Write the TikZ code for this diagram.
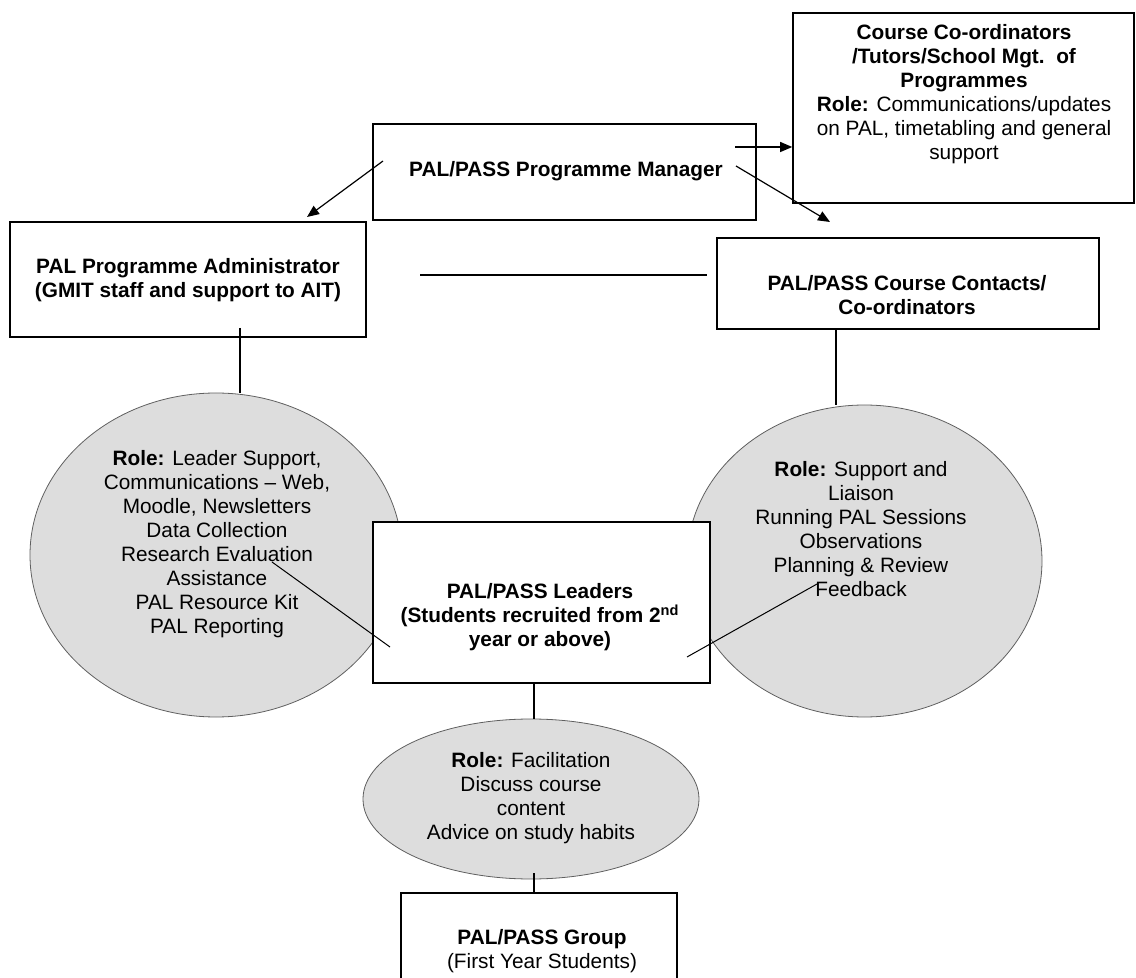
\documentclass[tikz,border=0pt]{standalone}
\usepackage{fontspec}
\setmainfont{Liberation Sans}
\usetikzlibrary{shapes.geometric,arrows.meta}
\definecolor{rolefill}{RGB}{221,221,221}
\definecolor{rim}{RGB}{95,95,95}
\tikzset{
  box/.style={draw, line width=0.8pt, fill=white, inner sep=0pt},
  role/.style={ellipse, draw=rim, line width=0.4pt, fill=rolefill, inner sep=0pt},
  txt/.style={align=center, inner sep=0pt, font=\fontsize{10.4}{12}\selectfont},
  arr/.style={-{Triangle[length=6pt,width=5pt]}, line width=0.6pt},
  link/.style={line width=0.6pt}
}
\begin{document}
\begin{tikzpicture}[x=0.5pt,y=-0.5pt]
  \useasboundingbox (0,0) rectangle (1136,978);
  \clip (0,0) rectangle (1136,978);

  % Top boxes
  \node[box, minimum width=170.5pt, minimum height=95pt] (coord) at (963.5,108) {};
  \node[txt] (coordtxt) at (964,94) {\textbf{Course Co-ordinators}\\
    \textbf{/Tutors/School Mgt.\ \ of}\\ \textbf{Programmes}\\
    \textbf{Role:} Communications/updates\\ on PAL, timetabling and general\\ support};
  \node[box, minimum width=191.5pt, minimum height=48pt] (mgr) at (564.5,172) {};
  \node[txt] (mgrtxt) at (566,171) {\textbf{PAL/PASS Programme Manager}};

  % Second row
  \node[box, minimum width=178pt, minimum height=57.5pt] (admin) at (188,279.5) {};
  \node[txt] (admintxt) at (188,280.5) {\textbf{PAL Programme Administrator}\\
    \textbf{(GMIT staff and support to AIT)}};
  \node[box, minimum width=191pt, minimum height=45.5pt] (contacts) at (908,283.5) {};
  \node[txt] (contactstxt) at (907,295.5) {\textbf{PAL/PASS Course Contacts/}\\
    \textbf{Co-ordinators}};

  % Roles
  \node[role, minimum width=186pt, minimum height=162pt] (roleL) at (216,555) {};
  \node[txt] (roleLtxt) at (217,544) {\textbf{Role:} Leader Support,\\
    Communications -- Web,\\ Moodle, Newsletters\\ Data Collection\\
    Research Evaluation\\ Assistance\\ PAL Resource Kit\\ PAL Reporting};
  \node[role, minimum width=177.5pt, minimum height=156pt] (roleR) at (864.5,561) {};
  \node[txt] (roleRtxt) at (861,529) {\textbf{Role:} Support and\\ Liaison\\
    Running PAL Sessions\\ Observations\\ Planning \& Review\\ Feedback};

  % Leaders
  \node[box, minimum width=168.5pt, minimum height=80.5pt] (leaders) at (541.5,602.5) {};
  \node[txt] (leaderstxt) at (540,617.5) {\textbf{PAL/PASS Leaders}\\
    \textbf{(Students recruited from 2\textsuperscript{nd}}\\ \textbf{year or above)}};

  % Group
  \node[role, minimum width=168pt, minimum height=80pt] (facil) at (531,799) {};
  \node[txt] (faciltxt) at (531,798) {\textbf{Role:} Facilitation\\ Discuss course\\
    content\\ Advice on study habits};
  \node[box, minimum width=138pt, minimum height=58.5pt] (group) at (539,951.5) {};
  \node[txt] (grouptxt) at (542,951) {\textbf{PAL/PASS Group}\\ (First Year Students)};

  % Arrows
  \coordinate (a1) at (735,147);
  \coordinate (a2s) at (383,161);
  \coordinate (a2e) at (307,217);
  \coordinate (a3s) at (736,166);
  \coordinate (a3e) at (830,222);
  \draw[arr] (a1) -- (a1 -| coord.west);
  \draw[arr] (a2s) -- (a2e);
  \draw[arr] (a3s) -- (a3e);

  % Links
  \coordinate (h1) at (420,275);
  \coordinate (h2) at (707,275);
  \coordinate (v1) at (240,328);
  \coordinate (v2) at (836,0);
  \coordinate (v3) at (534,0);
  \coordinate (v4) at (534,873);
  \coordinate (p1s) at (272,562);
  \coordinate (p1e) at (390,647);
  \coordinate (p2s) at (817,584);
  \coordinate (p2e) at (687,657);
  \draw[link] (h1) -- (h2);
  \draw[link] (v1) -- (v1 |- roleL.north);
  \draw[link] (v2 |- contacts.south) -- (v2 |- roleR.north);
  \draw[link] (v3 |- leaders.south) -- (v3 |- facil.north);
  \draw[link] (v4) -- (v4 |- group.north);
  \draw[line width=0.5pt] (p1s) -- (p1e);
  \draw[line width=0.5pt] (p2s) -- (p2e);
\end{tikzpicture}
\end{document}
